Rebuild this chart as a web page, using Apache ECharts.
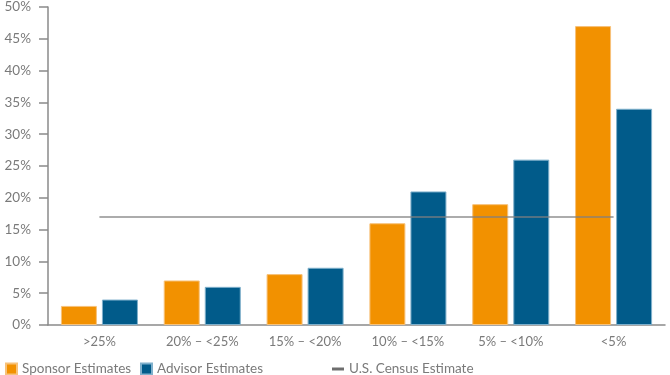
<!DOCTYPE html>
<html><head><meta charset="utf-8">
<script src="https://cdn.jsdelivr.net/npm/echarts@6/dist/echarts.min.js"></script>
<style>html,body{margin:0;padding:0;background:#fff}#c{width:670px;height:375px}</style>
</head><body><div id="c"></div>
<script>
const categories = [">25%", "20% – <25%", "15% – <20%", "10% – <15%", "5% – <10%", "<5%"];
const sponsor = [3, 7, 8, 16, 19, 47];
const advisor = [4, 6, 9, 21, 26, 34];
const census = [17, 17, 17, 17, 17, 17];
const yTicks = [0, 5, 10, 15, 20, 25, 30, 35, 40, 45, 50];

const font = "Lato, 'Open Sans', sans-serif";
const txt = '#7a7a7a';
const chart = echarts.init(document.getElementById('c'));
chart.setOption({
  animation: false,
  grid: {left: 48, right: 5, top: 7, bottom: 50},
  legend: [
    {data: [{name: 'Sponsor Estimates', icon: 'rect'}], left: 0, top: 357, itemWidth: 11, itemHeight: 11, itemGap: 8,
     textStyle: {color: txt, fontSize: 13.5, fontFamily: font}},
    {data: [{name: 'Advisor Estimates', icon: 'rect'}], left: 135, top: 357, itemWidth: 11, itemHeight: 11,
     textStyle: {color: txt, fontSize: 13.5, fontFamily: font}},
    {data: [{name: 'U.S. Census Estimate', icon: 'rect', itemStyle: {color: '#6e6e6e'}}], left: 327, top: 357, itemWidth: 12, itemHeight: 3,
     textStyle: {color: txt, fontSize: 13.5, fontFamily: font}}
  ],
  xAxis: {
    type: 'category', data: categories,
    axisLine: {lineStyle: {color: '#8a8a8a', width: 1.5}},
    axisTick: {show: false},
    axisLabel: {color: txt, fontSize: 13, fontFamily: font, margin: 10, interval: 0}
  },
  yAxis: {
    type: 'value', min: 0, max: 50, interval: 5,
    axisLine: {show: true, lineStyle: {color: '#8a8a8a', width: 1.5}},
    axisTick: {show: true, length: 9, lineStyle: {color: '#8a8a8a', width: 1.5}},
    splitLine: {show: false},
    axisLabel: {color: txt, fontSize: 13.5, fontFamily: font, margin: 17,
      formatter: v => yTicks.includes(v) ? v + '%' : ''}
  },
  series: [
    {name: 'Sponsor Estimates', type: 'bar', data: sponsor, barWidth: 36, barGap: '14%',
     itemStyle: {color: '#f29100', borderColor: '#f7c27a', borderWidth: 1}},
    {name: 'Advisor Estimates', type: 'bar', data: advisor, barWidth: 36,
     itemStyle: {color: '#015b8a', borderColor: '#7fb0cc', borderWidth: 1}},
    {name: 'U.S. Census Estimate', type: 'line', data: census, symbol: 'none', z: 5,
     lineStyle: {color: 'rgba(128,128,128,0.65)', width: 2}, itemStyle: {color: '#6e6e6e'}}
  ]
});
</script></body></html>
